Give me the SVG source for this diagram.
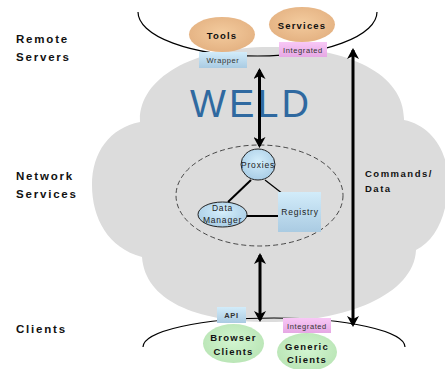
<svg xmlns="http://www.w3.org/2000/svg" width="445" height="369" viewBox="0 0 445 369">
<defs>
<radialGradient id="tan" cx="0.5" cy="0.45" r="0.6">
<stop offset="0" stop-color="#f3cb9e"/><stop offset="1" stop-color="#e3b080"/>
</radialGradient>
<radialGradient id="green" cx="0.5" cy="0.45" r="0.6">
<stop offset="0" stop-color="#d2f5d0"/><stop offset="1" stop-color="#b8e4b4"/>
</radialGradient>
<linearGradient id="blue" x1="0" y1="0" x2="0" y2="1">
<stop offset="0" stop-color="#d2ecfa"/><stop offset="1" stop-color="#aacbe2"/>
</linearGradient>
<radialGradient id="bluer" cx="0.5" cy="0.4" r="0.6">
<stop offset="0" stop-color="#d4eefb"/><stop offset="1" stop-color="#a9cde6"/>
</radialGradient>
<linearGradient id="pink" x1="0" y1="0" x2="0" y2="1">
<stop offset="0" stop-color="#f8c8f6"/><stop offset="1" stop-color="#e6a8e4"/>
</linearGradient>
<marker id="ah" markerWidth="12" markerHeight="12" refX="9" refY="6" orient="auto-start-reverse" markerUnits="userSpaceOnUse" viewBox="0 0 12 12">
<path d="M0,0 L11,6 L0,12 L3,6 Z" fill="#000"/>
</marker>
<style>
.lbl{font-family:"Liberation Sans",Arial,sans-serif;font-weight:bold;font-size:11.5px;letter-spacing:1.8px;fill:#111}
.nd{font-family:"Liberation Sans",Arial,sans-serif;font-weight:bold;font-size:9.5px;letter-spacing:1.2px;fill:#111;text-anchor:middle}
.tag{font-family:"Liberation Sans",Arial,sans-serif;font-size:7.5px;letter-spacing:0.6px;fill:#333;text-anchor:middle}
.sm{font-family:"Liberation Sans",Arial,sans-serif;font-size:8.5px;letter-spacing:0.8px;fill:#222;text-anchor:middle}
.arr{stroke:#000;stroke-width:3;fill:none;marker-start:url(#ah);marker-end:url(#ah)}
.ln{stroke:#000;fill:none}
</style>
</defs>
<g id="cloud">
<path d="M140,122 C138,80 190,47 270,47 C350,47 405,75 404,120 C430,125 448,150 448,180 C448,215 436,240 416,250 C414,295 345,322 268,322 C195,322 145,300 142,257 C108,248 92,218 92,185 C92,152 110,128 140,122 Z" fill="#dcdcdc"/>
</g>
<g id="server-arc"><path class="ln" d="M138,12 A119.5,44 0 0 0 377,12" stroke-width="1.2"/></g>
<g id="client-arc"><path class="ln" d="M143,347 A131,29 0 0 1 405,347" stroke-width="1.2"/></g>
<g id="labels">
<text class="lbl" x="16" y="43">Remote</text>
<text class="lbl" x="16" y="61">Servers</text>
<text class="lbl" x="16" y="180">Network</text>
<text class="lbl" x="16" y="198">Services</text>
<text class="lbl" x="16" y="333">Clients</text>
<text class="lbl" x="365" y="177" style="font-size:9.5px;letter-spacing:1.5px">Commands/</text>
<text class="lbl" x="365" y="192" style="font-size:9.5px;letter-spacing:1.5px">Data</text>
<text x="251" y="117" text-anchor="middle" font-family="Liberation Sans, Arial, sans-serif" font-size="38" letter-spacing="3" fill="#2f69a0">WELD</text>
</g>
<g id="network-services">
<ellipse cx="259.5" cy="195.5" rx="83.5" ry="50.5" fill="none" stroke="#222" stroke-width="0.8" stroke-dasharray="5,3"/>
</g>
<g id="connectors">
<line class="ln" x1="251" y1="180" x2="228" y2="202" stroke-width="2"/>
<line class="ln" x1="265" y1="180" x2="283" y2="194" stroke-width="1.2"/>
<line class="ln" x1="246" y1="216" x2="278" y2="216" stroke-width="2"/>
<line class="arr" x1="259.5" y1="70" x2="259.5" y2="146"/>
<line class="arr" x1="260" y1="255" x2="260" y2="320"/>
<line class="arr" x1="353" y1="50" x2="353" y2="325"/>
</g>
<g id="tools">
<ellipse cx="222" cy="34.5" rx="33" ry="17.5" fill="url(#tan)"/>
<text class="nd" x="222" y="39">Tools</text>
</g>
<g id="services">
<ellipse cx="302" cy="24.5" rx="33" ry="17.5" fill="url(#tan)"/>
<text class="nd" x="302" y="29">Services</text>
</g>
<g id="wrapper">
<rect x="199" y="52" width="48" height="16" fill="url(#blue)"/>
<text class="tag" x="223" y="63">Wrapper</text>
</g>
<g id="integrated-top">
<rect x="279" y="42" width="48" height="15" fill="url(#pink)"/>
<text class="tag" x="303" y="52.5">Integrated</text>
</g>
<g id="proxies">
<ellipse cx="258" cy="164.5" rx="17" ry="15.5" fill="url(#bluer)" stroke="#222" stroke-width="1"/>
<text class="sm" x="258" y="168">Proxies</text>
</g>
<g id="data-manager">
<ellipse cx="222.5" cy="214.5" rx="24.5" ry="12.5" fill="url(#bluer)" stroke="#222" stroke-width="1"/>
<text class="sm" x="222.5" y="211">Data</text>
<text class="sm" x="222.5" y="223">Manager</text>
</g>
<g id="registry">
<rect x="278" y="192" width="43" height="40" fill="url(#blue)"/>
<text class="sm" x="300" y="214.5">Registry</text>
</g>
<g id="api">
<rect x="217" y="307" width="29" height="16" fill="url(#blue)"/>
<text class="tag" x="231.5" y="318" style="font-weight:bold">API</text>
</g>
<g id="integrated-bottom">
<rect x="283" y="318" width="48" height="15" fill="url(#pink)"/>
<text class="tag" x="307" y="328.5">Integrated</text>
</g>
<g id="browser-clients">
<ellipse cx="233.5" cy="343.5" rx="30.5" ry="19.5" fill="url(#green)"/>
<text class="nd" x="233.5" y="341">Browser</text>
<text class="nd" x="233.5" y="354.5">Clients</text>
</g>
<g id="generic-clients">
<ellipse cx="307" cy="352" rx="30" ry="19" fill="url(#green)"/>
<text class="nd" x="307" y="349.5">Generic</text>
<text class="nd" x="307" y="363">Clients</text>
</g>
</svg>
